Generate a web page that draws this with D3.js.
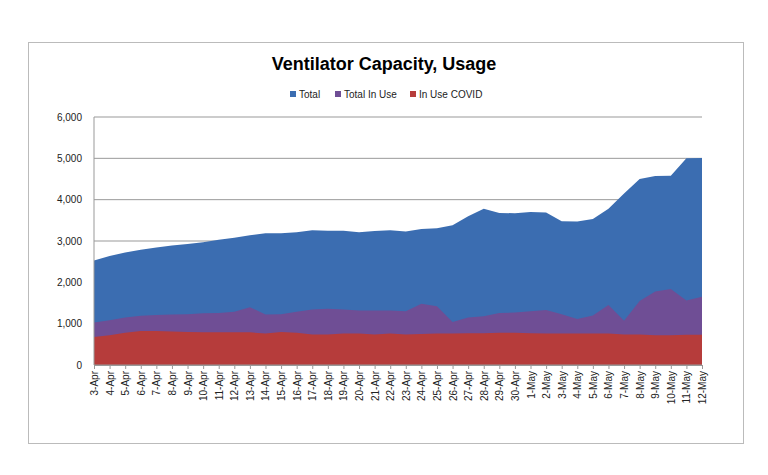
<!DOCTYPE html><html><head><script src="https://d3js.org/d3.v7.min.js"></script>
<style>body{margin:0;background:#fff}text{font-family:"Liberation Sans",Arial,sans-serif}</style></head><body><svg id="c" width="768" height="475"></svg>
<script>
const dates=["3-Apr","4-Apr","5-Apr","6-Apr","7-Apr","8-Apr","9-Apr","10-Apr","11-Apr","12-Apr","13-Apr","14-Apr","15-Apr","16-Apr","17-Apr","18-Apr","19-Apr","20-Apr","21-Apr","22-Apr","23-Apr","24-Apr","25-Apr","26-Apr","27-Apr","28-Apr","29-Apr","30-Apr","1-May","2-May","3-May","4-May","5-May","6-May","7-May","8-May","9-May","10-May","11-May","12-May"];
const total=[2530,2640,2720,2790,2840,2890,2930,2970,3030,3080,3140,3190,3190,3210,3260,3250,3250,3210,3240,3260,3230,3290,3310,3380,3600,3780,3680,3670,3700,3690,3480,3470,3530,3780,4150,4500,4570,4580,5000,5010];
const inUse=[1030,1080,1150,1190,1210,1220,1230,1250,1260,1290,1400,1220,1230,1290,1340,1360,1340,1320,1320,1320,1300,1480,1420,1040,1150,1180,1260,1270,1300,1330,1230,1110,1200,1450,1070,1550,1780,1840,1560,1650];
const covid=[680,720,780,820,820,810,800,790,790,790,790,760,800,780,740,740,760,760,740,760,740,750,760,760,770,770,780,780,770,760,760,760,760,760,740,740,720,720,730,730];
const yTicks=[0,1000,2000,3000,4000,5000,6000];
const series=[{name:"Total",v:total,c:"#3b6db1"},{name:"Total In Use",v:inUse,c:"#6f4e95"},{name:"In Use COVID",v:covid,c:"#b63c3b"}];
const svg=d3.select("#c");
svg.append("rect").attr("x",28.5).attr("y",42.5).attr("width",715).attr("height",401).attr("fill","#fff").attr("stroke","#bbb");
const x=d3.scalePoint().domain(dates).range([94,702]);
const y=d3.scaleLinear().domain([0,6000]).range([365,117]);
svg.append("g").selectAll("line").data(yTicks).join("line").attr("x1",94).attr("x2",702).attr("y1",d=>y(d)).attr("y2",d=>y(d)).attr("stroke","#999");
series.forEach(s=>{svg.append("path").datum(s.v).attr("fill",s.c).attr("d",d3.area().x((d,i)=>x(dates[i])).y0(y(0)).y1(d=>y(d)));});
svg.append("line").attr("x1",94).attr("x2",94).attr("y1",117).attr("y2",365).attr("stroke","#999");
svg.append("line").attr("x1",94).attr("x2",702).attr("y1",365).attr("y2",365).attr("stroke","#999");
const ya=svg.append("g").attr("transform","translate(94,0)").call(d3.axisLeft(y).tickValues(yTicks).tickSize(0).tickPadding(12));
ya.select(".domain").remove();ya.selectAll("text").attr("font-size",10).attr("fill","#222");
const xa=svg.append("g").attr("transform","translate(0,365)").call(d3.axisBottom(x).tickSize(4));
xa.select(".domain").attr("stroke","#999");xa.selectAll("line").attr("stroke","#999");
xa.selectAll("text").attr("font-size",10).attr("fill","#222").attr("transform","rotate(-90)").attr("text-anchor","end").attr("x",-6).attr("y",-3).attr("dy",0).attr("dx",0);
xa.selectAll("text").attr("dy","0.35em").attr("y",0);
svg.append("text").attr("x",384).attr("y",70).attr("text-anchor","middle").attr("font-size",18).attr("font-weight","bold").text("Ventilator Capacity, Usage");
const lx=[290,335,410];
series.forEach((s,i)=>{svg.append("rect").attr("x",lx[i]).attr("y",91).attr("width",6).attr("height",6).attr("fill",s.c);
svg.append("text").attr("x",lx[i]+9).attr("y",98).attr("font-size",10).attr("fill","#222").text(s.name);});
</script></body></html>
